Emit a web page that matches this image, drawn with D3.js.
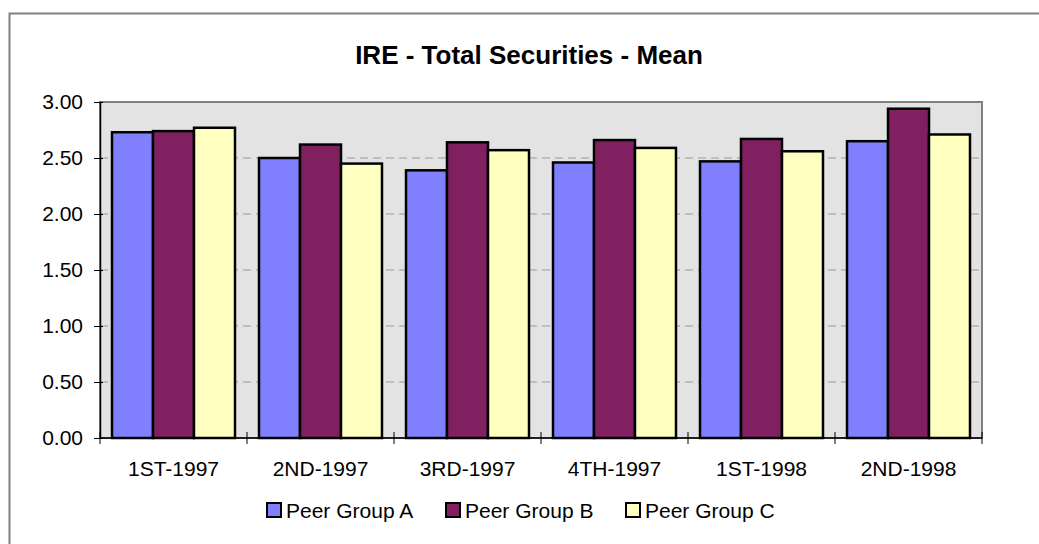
<!DOCTYPE html>
<html>
<head>
<meta charset="utf-8">
<script src="https://cdn.jsdelivr.net/npm/d3@7"></script>
<style>
	body { margin: 0; background: #fff; }
	svg text { font-family: "Liberation Sans", Arial, sans-serif; fill: #000; }
</style>
</head>
<body>
<svg id="viz" width="1039" height="544"></svg>
<script>

// values
const categories = ["1ST-1997", "2ND-1997", "3RD-1997", "4TH-1997", "1ST-1998", "2ND-1998"];
const seriesNames = ["Peer Group A", "Peer Group B", "Peer Group C"];
const groupA = [2.73, 2.50, 2.39, 2.46, 2.47, 2.65];
const groupB = [2.74, 2.62, 2.64, 2.66, 2.67, 2.94];
const groupC = [2.77, 2.45, 2.57, 2.59, 2.56, 2.71];
const yTicks = [0, 0.5, 1, 1.5, 2, 2.5, 3];

const colors = ["#8080ff", "#802060", "#ffffc0"];

const margin = { top: 102, right: 57, bottom: 106, left: 100 };

let svg = d3.select("svg#viz");
let width = 1039, height = 544;
let plotWidth = width - margin.left - margin.right;
let plotHeight = height - margin.top - margin.bottom;

// outer frame (runs off the right and bottom edge)
svg.append("rect")
	.attr("x", 9.5).attr("y", 13.5)
	.attr("width", 1100).attr("height", 600)
	.attr("fill", "none")
	.attr("stroke", "#808080")
	.attr("stroke-width", 2);

// title
svg.append("text")
	.attr("x", 529)
	.attr("y", 64)
	.attr("text-anchor", "middle")
	.style("font-size", "26px")
	.style("font-weight", "bold")
	.text("IRE - Total Securities - Mean");

let plot = svg.append("g")
	.attr("transform", `translate(${margin.left}, ${margin.top})`);

let yScale = d3.scaleLinear()
	.domain([0, 3])
	.range([plotHeight, 0]);

let xScale = d3.scaleBand()
	.domain(categories)
	.range([0, plotWidth]);

let innerScale = d3.scaleBand()
	.domain(seriesNames)
	.range([0, xScale.bandwidth()])
	.paddingOuter(0.293);

// plot background
plot.append("rect")
	.attr("width", plotWidth)
	.attr("height", plotHeight)
	.attr("fill", "#e3e3e3")
	.attr("stroke", "#808080")
	.attr("stroke-width", 2);

// dashed grid lines
plot.selectAll("line.grid")
	.data(yTicks.filter(d => d > 0 && d < 3))
	.enter().append("line")
	.attr("class", "grid")
	.attr("x1", 0).attr("x2", plotWidth)
	.attr("y1", d => yScale(d)).attr("y2", d => yScale(d))
	.attr("stroke", "#999")
	.attr("stroke-dasharray", "8,5");

// bars
let rows = categories.map((c, i) => ({ cat: c, values: [groupA[i], groupB[i], groupC[i]] }));

let groups = plot.selectAll("g.cat")
	.data(rows)
	.enter().append("g")
	.attr("class", "cat")
	.attr("transform", d => `translate(${xScale(d.cat)}, 0)`);

groups.selectAll("rect")
	.data(d => d.values.map((v, j) => ({ name: seriesNames[j], value: v, j: j })))
	.enter().append("rect")
	.attr("x", d => innerScale(d.name))
	.attr("width", innerScale.bandwidth())
	.attr("y", d => yScale(d.value))
	.attr("height", d => plotHeight - yScale(d.value))
	.attr("fill", d => colors[d.j])
	.attr("stroke", "#000")
	.attr("stroke-width", 2.5);

// y axis
let yAxis = d3.axisLeft(yScale)
	.tickValues(yTicks)
	.tickFormat(d3.format(".2f"))
	.tickSizeInner(6)
	.tickSizeOuter(0)
	.tickPadding(11);
let yGroup = plot.append("g").call(yAxis);
yGroup.select(".domain").attr("stroke", "#000").attr("stroke-width", 1.5);
yGroup.selectAll(".tick line").attr("x2", 3).attr("x1", -6);
yGroup.selectAll("text").style("font-size", "21px");

// x axis, ticks between categories
let xGroup = plot.append("g")
	.attr("transform", `translate(0, ${plotHeight})`);
xGroup.append("line")
	.attr("x1", 0).attr("x2", plotWidth)
	.attr("stroke", "#000").attr("stroke-width", 1.5);
xGroup.selectAll("line.tick")
	.data(d3.range(categories.length + 1))
	.enter().append("line")
	.attr("class", "tick")
	.attr("x1", i => i * xScale.step()).attr("x2", i => i * xScale.step())
	.attr("y1", -6).attr("y2", 6)
	.attr("stroke", "#000");
xGroup.selectAll("text")
	.data(categories)
	.enter().append("text")
	.attr("x", d => xScale(d) + xScale.bandwidth() / 2)
	.attr("y", 38)
	.attr("text-anchor", "middle")
	.style("font-size", "21px")
	.text(d => d);

// legend
let legendX = [267, 446, 626];
let legend = svg.selectAll("g.legend")
	.data(seriesNames)
	.enter().append("g")
	.attr("class", "legend")
	.attr("transform", (d, i) => `translate(${legendX[i]}, 503)`);
legend.append("rect")
	.attr("width", 14).attr("height", 14)
	.attr("fill", (d, i) => colors[i])
	.attr("stroke", "#000")
	.attr("stroke-width", 2);
legend.append("text")
	.attr("x", 19)
	.attr("y", 15)
	.style("font-size", "21px")
	.text(d => d);

</script>
</body>
</html>
